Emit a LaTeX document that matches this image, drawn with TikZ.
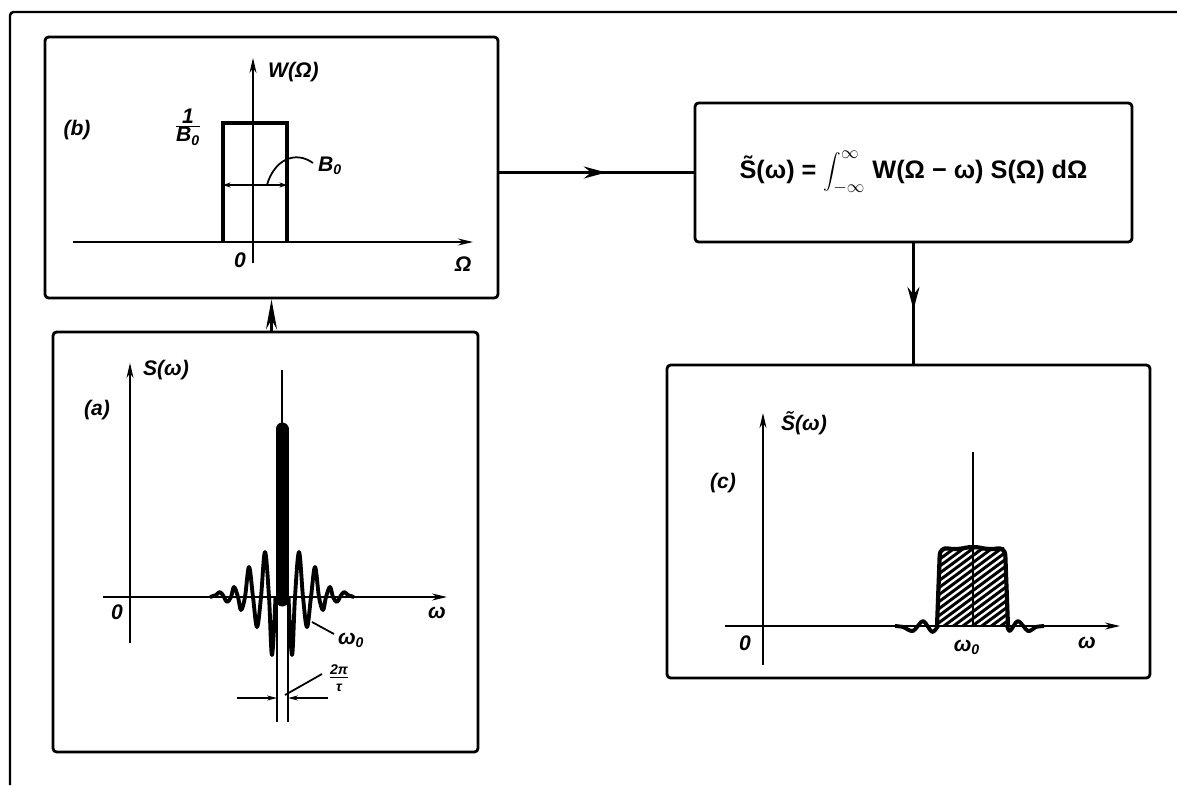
\documentclass[tikz,border=0pt]{standalone}
\usepackage{fontspec}
\setmainfont{Liberation Sans}
\usetikzlibrary{arrows.meta,positioning,decorations.markings,calc}

\tikzset{
  panel/.style={draw, line width=1.6pt, rounded corners=2pt, inner sep=0pt},
  axis/.style={line width=1pt, -{Stealth[length=0.3cm,width=0.14cm]}},
  lbl/.style={font=\large\bfseries\itshape, inner sep=1pt},
  flow/.style={line width=1.4pt, postaction={decorate},
    decoration={markings, mark=at position 0.55 with {\arrow{Stealth[length=0.45cm,width=0.24cm]}}}},
  shortflow/.style={line width=1.4pt, -{Stealth[length=0.6cm,width=0.22cm]}},
  lobe/.style={line width=2.2pt, line join=round},
}

\begin{document}
\begin{tikzpicture}[x=0.02cm, y=-0.02cm]
\useasboundingbox (0,0) rectangle (1177,785);

% outer frame
\draw[line width=1.4pt, rounded corners=2pt] (10,785) -- (10,12) -- (1177,12);

% --- Panels ---
\node[panel, minimum width=9.06cm, minimum height=5.22cm] (wbox) at (271.5,167.5) {};
\node[panel, minimum width=8.5cm, minimum height=8.4cm] (sbox) at (265.5,542) {};
\node[panel, minimum width=8.74cm, minimum height=2.78cm, font=\Large\bfseries] (formbox) at (913.5,172.5)
  {\~{S}(ω) = $\displaystyle\int_{-\infty}^{\infty}$ W(Ω − ω) S(Ω) dΩ};
\node[panel, minimum width=9.66cm, minimum height=6.26cm] (cbox) at (908.5,521.5) {};

% --- Connectors ---
\draw[flow] (wbox.east |- formbox.west) -- (formbox.west);
\draw[flow] (formbox.south) -- (formbox.south |- cbox.north);
\draw[shortflow] (wbox.south |- sbox.north) -- (wbox.south);

% --- (b) window W ---
\draw[axis] (73,242) -- (473,242);
\draw[axis] (253,263) -- (253,58);
\draw[line width=2pt] (223,242) -- (223,123) -- (287,123) -- (287,242);
\draw[line width=0.8pt, {Stealth[length=0.15cm,width=0.1cm]}-{Stealth[length=0.15cm,width=0.1cm]}] (223,185) -- (287,185);
\draw[line width=1pt] (267,185) .. controls (274,160) and (295,150) .. (313,163);
\node[lbl, anchor=west] (wlab) at (266,72) {W(Ω)};
\node[lbl] (blab) at (77,130) {(b)};
\node[lbl] (hlab) at (188,127) {$\frac{\mbox{1}}{\mbox{B\textsubscript{0}}}$};
\node[lbl, anchor=west] (bwidth) at (316,166) {B\textsubscript{0}};
\node[lbl] (wzero) at (240,260) {0};
\node[lbl] (womega) at (463,264) {Ω};

% --- (a) spectrum S ---
\draw[axis] (103,597) -- (447,597);
\draw[axis] (130,643) -- (130,363);
\foreach \s in {1,-1}
  \draw[lobe, shift={(282,597)}, xscale=\s] plot[smooth, tension=0.6] coordinates
    {(-72,0) (-66,-2) (-62,-5) (-58,0) (-55,5) (-51,0) (-48,-10) (-44,0) (-41,13)
     (-37,0) (-33,-30) (-29,0) (-25,30) (-21,0) (-17,-45) (-13,0) (-10,58) (-6.5,0)};
\draw[line width=0.26cm, line cap=round] (282,600) -- (282,429);
\draw[line width=1pt] (282,370) -- (282,430);
\draw[line width=1pt] (277,597) -- (277,722);
\draw[line width=1pt] (288,597) -- (288,722);
\draw[line width=0.8pt, -{Stealth[length=0.2cm,width=0.1cm]}] (237,698) -- (277,698);
\draw[line width=0.8pt, -{Stealth[length=0.2cm,width=0.1cm]}] (328,698) -- (288,698);
\draw[line width=1pt] (285,695) -- (322,674);
\draw[line width=1pt] (312,622) -- (334,634);
\node[lbl, anchor=west] (slab) at (141,370) {S(ω)};
\node[lbl] (alab) at (97,410) {(a)};
\node[lbl] (szero) at (117,612) {0};
\node[lbl] (somega) at (437,613) {ω};
\node[lbl, anchor=west] (sctr) at (336,640) {ω\textsubscript{0}};
\node[lbl, font=\bfseries\itshape\footnotesize, anchor=west, align=center] (speriod) at (328,678) {\underline{2π}\\τ};

% --- (c) smoothed spectrum ---
\draw[axis] (725,626) -- (1120,626);
\draw[axis] (763,665) -- (763,413);
\begin{scope}
  \clip (937,626) -- (940,547) -- (1004,547) -- (1008,626) -- cycle;
  \foreach \k in {-6,...,13}
    \draw[line width=1.7pt] (925,647-7*\k) -- (1025,573-7*\k);
\end{scope}
\draw[line width=2.4pt, rounded corners=0.16cm] (937,627) -- (940,547) -- (956,550) -- (973,546) -- (990,550) -- (1005,547) -- (1008,627);
\draw[line width=1pt] (973,452) -- (973,626);
\draw[lobe] plot[smooth] coordinates {(895,626) (903,627) (913,631) (923,621) (932,632) (938,626)};
\draw[lobe] plot[smooth] coordinates {(1007,626) (1010,631) (1018,621) (1028,631) (1036,627) (1044,626)};
\node[lbl, anchor=west] (clab) at (779,423) {\~{S}(ω)};
\node[lbl] (cpart) at (723,483) {(c)};
\node[lbl] (czero) at (745,643) {0};
\node[lbl] (cctr) at (967,647) {ω\textsubscript{0}};
\node[lbl] (comega) at (1087,643) {ω};

\end{tikzpicture}
\end{document}
